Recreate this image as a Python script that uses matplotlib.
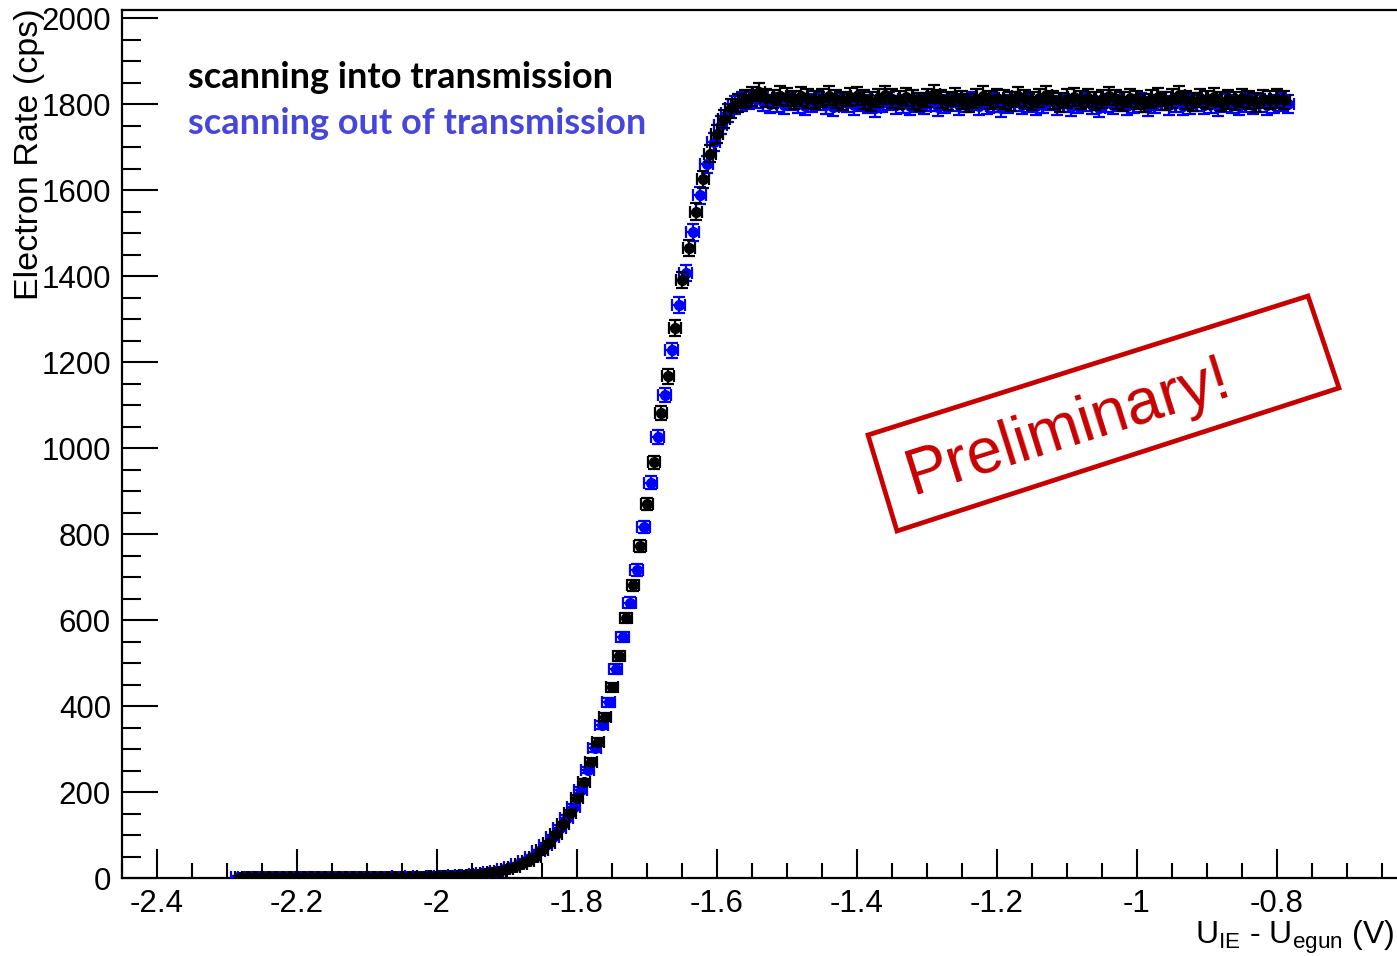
import numpy as np
import matplotlib
matplotlib.use("Agg")
import matplotlib.pyplot as plt
from matplotlib.ticker import MultipleLocator, FixedLocator, FuncFormatter
from matplotlib.patches import Polygon

plt.rcParams["font.family"] = ["Liberation Sans", "DejaVu Sans"]
plt.rcParams["axes.unicode_minus"] = False
plt.rcParams["mathtext.fontset"] = "custom"
plt.rcParams["mathtext.rm"] = "Liberation Sans"
plt.rcParams["mathtext.it"] = "Liberation Sans:italic"
plt.rcParams["mathtext.bf"] = "Liberation Sans:bold"

# ---------------------------------------------------------------- data
# voltage sweep U_IE - U_egun (V), 10 mV steps
u_into = np.round(np.arange(-2.28, -0.785, 0.01), 3)    # 150 points
u_out = np.round(np.arange(-2.285, -0.780, 0.01), 3)    # 151 points

# electron rate (cps) while scanning into transmission
rate_into = [
    2, 3, 2, 2, 3, 2, 3, 2, 2, 3, 2, 3, 3, 2, 2, 3, 2, 3, 3, 2,
    3, 3, 2, 3, 3, 3, 4, 3, 4,
    4, 5, 5, 6, 7, 9, 11, 14, 17, 21, 26, 33, 40, 50, 64, 82, 102, 125,
    151, 186, 223, 270, 316, 374, 444, 516, 605, 681, 772, 870, 967, 1081,
    1167, 1279, 1390, 1465, 1550, 1625, 1685, 1730, 1765, 1790, 1803, 1812,
    1818,
    1828, 1815, 1812, 1820, 1816, 1810, 1818, 1813, 1809, 1815,
    1820, 1812, 1808, 1816, 1819, 1811, 1806, 1814, 1822, 1813,
    1809, 1817, 1811, 1805, 1815, 1824, 1812, 1808, 1816, 1810,
    1803, 1813, 1820, 1809, 1815, 1811, 1806, 1818, 1812, 1808,
    1815, 1821, 1810, 1804, 1813, 1817, 1809, 1814, 1807, 1812,
    1819, 1811, 1806, 1815, 1810, 1803, 1812, 1816, 1808, 1813,
    1822, 1809, 1805, 1814, 1810, 1817, 1806, 1811, 1808, 1815,
    1810, 1804, 1812, 1809, 1813, 1810,
]

# electron rate (cps) while scanning out of transmission
rate_out = [
    3, 2, 2, 3, 2, 3, 3, 2, 3, 2, 2, 3, 2, 3, 3, 2, 3, 3, 2, 3,
    3, 2, 3, 4, 3, 3, 4, 3, 4,
    4, 5, 6, 7, 8, 9, 11, 14, 17, 21, 26, 32, 40, 50, 62, 77, 95, 117, 140,
    165, 205, 251, 302, 356, 409, 486, 560, 640, 716, 816, 919, 1026, 1123,
    1228, 1333, 1407, 1502, 1588, 1660, 1712, 1752, 1780, 1798, 1806, 1810,
    1812, 1806, 1800, 1804, 1798, 1808, 1801, 1795, 1803, 1807,
    1799, 1794, 1805, 1802, 1797, 1806, 1800, 1792, 1803, 1808,
    1798, 1801, 1795, 1804, 1799, 1806, 1793, 1800, 1805, 1797,
    1802, 1808, 1796, 1799, 1804, 1791, 1800, 1806, 1798, 1803,
    1795, 1801, 1807, 1797, 1802, 1794, 1800, 1805, 1798, 1792,
    1803, 1799, 1806, 1796, 1801, 1804, 1793, 1800, 1807, 1797,
    1802, 1795, 1799, 1805, 1798, 1801, 1794, 1803, 1800, 1796,
    1804, 1799, 1802, 1797, 1801, 1805, 1800,
]

rate_into = np.array(rate_into, dtype=float)
rate_out = np.array(rate_out, dtype=float)

t_meas = 4.0        # counting time per step (s)
u_err = 0.009       # voltage uncertainty (V)

x_ticks = [-2.4, -2.2, -2.0, -1.8, -1.6, -1.4, -1.2, -1.0, -0.8]
legend_labels = ["scanning into transmission", "scanning out of transmission"]
x_title = r"U$_{\rm IE}$ - U$_{\rm egun}$ (V)"
y_title = "Electron Rate (cps)"

# ---------------------------------------------------------------- figure
W, H = 1397, 956
fig = plt.figure(figsize=(W / 100, H / 100), dpi=100)
ax = fig.add_axes([122 / W, 78 / H, 1295 / W, 868 / H])
ax.set_xlim(-2.45, -0.6)
ax.set_ylim(0, 2019)

common = dict(fmt="o", ms=7, elinewidth=1.6, capsize=4, capthick=1.6)
ax.errorbar(u_out, rate_out, xerr=u_err, yerr=np.sqrt(rate_out / t_meas),
            color="#0000ff", ecolor="#0000ff", zorder=3, **common)
ax.errorbar(u_into, rate_into, xerr=u_err, yerr=np.sqrt(rate_into / t_meas),
            color="black", ecolor="black", zorder=4, **common)

# ROOT-like axes
for side in ("left", "bottom", "top"):
    ax.spines[side].set_linewidth(1.6)
ax.spines["right"].set_visible(False)

ax.xaxis.set_major_locator(FixedLocator(x_ticks))
ax.xaxis.set_minor_locator(MultipleLocator(0.05))
ax.yaxis.set_major_locator(MultipleLocator(200))
ax.yaxis.set_minor_locator(MultipleLocator(50))
ax.xaxis.set_major_formatter(FuncFormatter(lambda v, _: f"{round(v, 2):g}"))
ax.yaxis.set_major_formatter(FuncFormatter(lambda v, _: f"{v:.0f}"))

ax.tick_params(which="both", direction="in", top=False, right=False,
               width=1.5, labelsize=22.5)
ax.tick_params(axis="y", which="major", length=26, pad=8)
ax.tick_params(axis="y", which="minor", length=14)
ax.tick_params(axis="x", which="major", length=21, pad=8)
ax.tick_params(axis="x", which="minor", length=11)

fig.text(1395 / W, 1 - 944 / H, x_title, ha="right", va="baseline", fontsize=23)
fig.text(30 / W, 1 - 8 / H, y_title, ha="center", va="top", rotation=90,
         fontsize=24.5)

# legend entries as coloured text
fig.text(188 / W, 1 - 78 / H, legend_labels[0], ha="left", va="center",
         fontsize=26, fontweight="bold", family="Lato", color="black")
fig.text(188 / W, 1 - 124 / H, legend_labels[1], ha="left", va="center",
         fontsize=26, fontweight="bold", family="Lato", color="#4646dc")

# "Preliminary!" stamp
stamp = [(868, 435), (1308, 296), (1339, 388), (897, 531)]
fig.add_artist(Polygon([(x / W, 1 - y / H) for x, y in stamp], closed=True,
                       fill=False, edgecolor="#c80000", linewidth=3.4,
                       transform=fig.transFigure))
fig.text(1068 / W, 1 - 428 / H, "Preliminary!", ha="center", va="center",
         rotation=17.5, rotation_mode="anchor", fontsize=46, color="#c80000")

fig.savefig("out.png", dpi=100)
